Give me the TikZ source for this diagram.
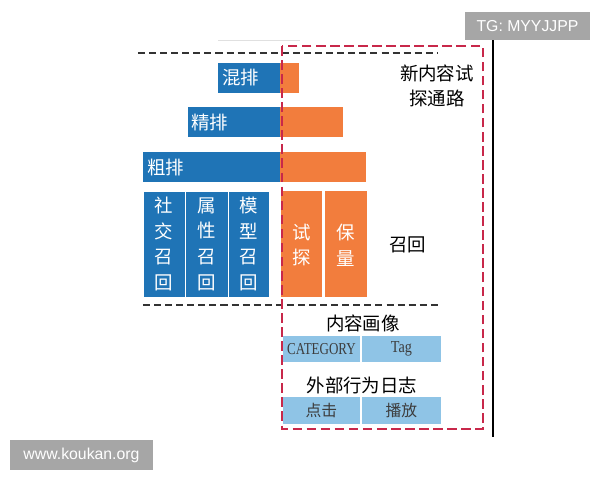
\documentclass[tikz,border=0pt]{standalone}
\usepackage{fontspec}
\usepackage{xcolor}
\usepackage{graphicx}
\usepackage{tikz}
\setmainfont{Liberation Serif}
\newfontfamily\cjk{Noto Sans CJK SC}
\newfontfamily\wmfont{Liberation Sans}
\definecolor{rankblue}{HTML}{1F74B6}
\definecolor{trial}{HTML}{F27D3D}
\definecolor{pale}{HTML}{8FC4E6}
\definecolor{frame}{HTML}{C8284A}
\definecolor{wmgrey}{HTML}{A6A6A6}
\definecolor{ink}{HTML}{3C3C3C}
\tikzset{
  blk/.style={fill=rankblue, draw=white, line width=0.4pt},
  org/.style={fill=trial},
  cell/.style={fill=pale, draw=white, line width=0.6pt},
  sep/.style={draw=black!80, dash pattern=on 4pt off 2.3pt, line width=0.7pt},
  zone/.style={draw=frame, dash pattern=on 5.5pt off 2.5pt, line width=1.1pt},
  wlab/.style={text=white, font=\cjk\fontsize{10.5}{14.6}\selectfont, inner sep=0pt},
  lab/.style={text=black, font=\cjk\fontsize{10.5}{14}\selectfont, inner sep=0pt},
  clab/.style={text=ink, font=\fontsize{9.5}{11}\selectfont, inner sep=0pt},
  slab/.style={text=ink, font=\cjk\fontsize{9}{11}\selectfont, inner sep=0pt},
  wm/.style={text=white, font=\wmfont\fontsize{9}{11}\selectfont, inner sep=0pt},
}
\begin{document}
\begin{tikzpicture}[x=0.02cm, y=-0.02cm]
  \useasboundingbox (0,0) rectangle (600,480);

  % ranking bars
  \fill[rankblue] (218,63) rectangle (280,93);
  \fill[org] (280,63) rectangle (299,93);
  \fill[rankblue] (188,107) rectangle (280,137);
  \fill[org] (280,107) rectangle (343,137);
  \fill[rankblue] (143,152) rectangle (280,182);
  \fill[org] (280,152) rectangle (366,182);
  \node[wlab, anchor=west] (hunpai) at (222,78) {混排};
  \node[wlab, anchor=west] (jingpai) at (191,122) {精排};
  \node[wlab, anchor=west] (cupai) at (147,167) {粗排};

  % recall columns
  \foreach \xa/\xb/\txt [count=\i] in {143/185/社\\交\\召\\回, 185/228/属\\性\\召\\回, 228/269/模\\型\\召\\回}{
    \draw[blk] (\xa,191) rectangle (\xb,297);
    \node[wlab, align=center] (col\i) at ({(\xa+\xb)/2},244) {\txt};
  }
  \fill[org] (281,191) rectangle (322,297);
  \fill[org] (325,191) rectangle (367,297);
  \node[wlab, align=center] (shitan) at (301.5,245) {试\\探};
  \node[wlab, align=center] (baoliang) at (346,245) {保\\量};
  \node[lab] (zhaohui) at (408,245) {召回};

  % profile and logs
  \node[lab] (huaxiang) at (363,323) {内容画像};
  \draw[cell] (282,335) rectangle (361,363);
  \draw[cell] (361,335) rectangle (442,363);
  \node[clab] (cat) at (321.5,349) {\scalebox{0.78}[1]{CATEGORY}};
  \node[clab] (tag) at (401.5,349) {\scalebox{0.85}[1]{Tag}};
  \node[lab] (rizhi) at (362,385) {外部行为日志};
  \draw[cell] (282,396) rectangle (361,425);
  \draw[cell] (361,396) rectangle (442,425);
  \node[slab] (dianji) at (321.5,410.5) {点击};
  \node[slab] (bofang) at (401.5,410.5) {播放};

  % separators and frame
  \draw[black!12, line width=0.4pt] (218,40) -- (300,40);
  \draw[sep] (138,53) -- (438,53);
  \draw[sep] (143,305) -- (440,305);
  \draw[black, line width=0.6pt] (493,40) -- (493,437);
  \draw[zone] (282,46) rectangle (483,429);
  \node[lab, align=center] (xintan) at (437,86) {新内容试\\探通路};

  % watermarks
  \fill[wmgrey] (465,12) rectangle (590,40);
  \node[wm] (tg) at (527.5,26) {TG: MYYJJPP};
  \fill[wmgrey] (10,440) rectangle (153,470);
  \node[wm] (site) at (81.5,455) {www.koukan.org};
\end{tikzpicture}
\end{document}
